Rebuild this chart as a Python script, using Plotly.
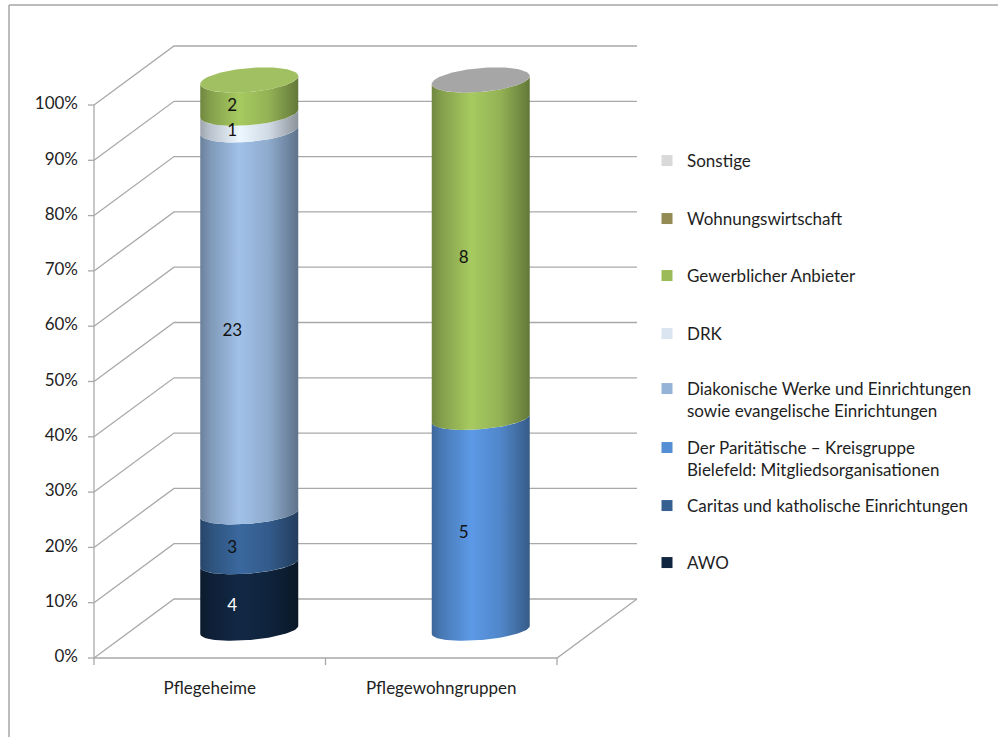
import numpy as np
import plotly.graph_objects as go

# ---------------------------------------------------------------- data
categories = ["Pflegeheime", "Pflegewohngruppen"]

series_names = [
    "AWO",
    "Caritas und katholische Einrichtungen",
    "Der Paritätische – Kreisgruppe<br>Bielefeld: Mitgliedsorganisationen",
    "Diakonische Werke und Einrichtungen<br>sowie evangelische Einrichtungen",
    "DRK",
    "Gewerblicher Anbieter",
    "Wohnungswirtschaft",
    "Sonstige",
]
awo = [4, 0]
caritas = [3, 0]
paritaetische = [0, 5]
diakonie = [23, 0]
drk = [1, 0]
gewerblich = [2, 8]
wohnungswirtschaft = [0, 0]
sonstige = [0, 0]
series_values = [awo, caritas, paritaetische, diakonie, drk,
                 gewerblich, wohnungswirtschaft, sonstige]

tick_values = [0, 10, 20, 30, 40, 50, 60, 70, 80, 90, 100]
tick_labels = ["0%", "10%", "20%", "30%", "40%", "50%",
               "60%", "70%", "80%", "90%", "100%"]

# ---------------------------------------------------------------- styles
series_colors = ["#10253f", "#366092", "#558ed5", "#95b3d7",
                 "#dbe5f1", "#9bbb59", "#948a54", "#d9d9d9"]
label_colors = ["#ffffff", "#111111", "#111111", "#111111",
                "#111111", "#111111", "#111111", "#111111"]
# pixel row (first text line) of each legend entry, AWO ... Sonstige
legend_rows = [562, 505, 447, 388, 333, 275, 218, 160]
cap_colors = ["#a1c062", "#a6a6a6"]
grid_color = "#a9a9a9"
text_color = "#1e1e1e"
FONT = "Lato, 'Open Sans', sans-serif"
FS = 17

W, H = 998, 737
PXU = 231.5          # pixels per category unit
PXP = 5.53           # pixels per percent
OX, OY = 94, 658     # front-left floor corner in pixels


def px_x(n):
    return n / PXU


def px_y(n):
    return n / PXP


DX, DY = px_x(80), px_y(59)          # depth of the 3D box
CYL_DX = px_x(39.5)                  # cylinders sit at mid depth
CYL_Y0 = px_y(28)
CYL_SCALE = 550 / 553
RAD_A = px_x(49)
SHEAR = px_y(4)


def ry(v):
    return CYL_Y0 + v * CYL_SCALE


def rb(v):
    return px_y(10 + 2 * v / 100)


def shade(hexc, f):
    h = hexc.lstrip("#")
    r, g, b = (min(255, int(h[i:i + 2], 16) * f) for i in (0, 2, 4))
    return "rgb(%d,%d,%d)" % (round(r), round(g), round(b))


def gradient(c):
    return [[0.0, shade(c, 0.72)], [0.1, shade(c, 0.85)],
            [0.4, shade(c, 1.08)], [0.7, shade(c, 0.95)],
            [1.0, shade(c, 0.64)]]


def front_arc(xc, v, t):
    return xc + RAD_A * np.cos(t), ry(v) - rb(v) * np.sin(t) + SHEAR * np.cos(t)


fig = go.Figure()

# ---------------------------------------------------------------- 3D frame
gx, gy = [], []
for v in tick_values:
    gx += [0, DX, 2 + DX, None]
    gy += [v, v + DY, v + DY, None]
# floor front and right edge
gx += [0, 2, 2 + DX, None]
gy += [0, 0, DY, None]
# vertical value axis
gx += [0, 0, None]
gy += [0, 100, None]
# value-axis tick marks
for v in tick_values:
    gx += [-px_x(6), 0, None]
    gy += [v, v, None]
# category-axis tick marks
for i in range(len(categories) + 1):
    gx += [i, i, None]
    gy += [0, -px_y(7), None]
fig.add_trace(go.Scatter(x=gx, y=gy, mode="lines",
                         line=dict(color=grid_color, width=1.3),
                         hoverinfo="skip", showlegend=False))

# axis labels
fig.add_trace(go.Scatter(
    x=[-px_x(16)] * len(tick_values), y=tick_values, text=tick_labels,
    mode="text", textposition="middle left",
    textfont=dict(family=FONT, size=FS, color=text_color),
    hoverinfo="skip", showlegend=False))
fig.add_trace(go.Scatter(
    x=[i + 0.5 for i in range(len(categories))],
    y=[-px_y(32)] * len(categories), text=categories,
    mode="text", textposition="middle center",
    textfont=dict(family=FONT, size=FS, color=text_color),
    hoverinfo="skip", showlegend=False))

# ---------------------------------------------------------------- cylinders
totals = [sum(s[i] for s in series_values) for i in range(len(categories))]
lab_x, lab_y, lab_t, lab_c = [], [], [], []
for ci, cat in enumerate(categories):
    xc = ci + 0.5 + CYL_DX
    base = 0.0
    for si, vals in enumerate(series_values):
        val = vals[ci]
        if val == 0:
            continue
        top = base + val / totals[ci] * 100
        x0, y0 = front_arc(xc, base, np.linspace(np.pi, 0, 60))
        x1, y1 = front_arc(xc, top, np.linspace(0, np.pi, 60))
        fig.add_trace(go.Scatter(
            x=np.concatenate([x0, x1]), y=np.concatenate([y0, y1]),
            mode="lines", line=dict(width=0), fill="toself",
            fillgradient=dict(type="horizontal",
                              colorscale=gradient(series_colors[si])),
            hoverinfo="skip", showlegend=False))
        mid = (base + top) / 2
        lab_x.append(xc - px_x(17))
        lab_y.append(ry(mid) - px_y(10))
        lab_t.append(str(val))
        lab_c.append(label_colors[si])
        base = top
    # top cap
    t = np.linspace(0, 2 * np.pi, 120)
    cx, cy = front_arc(xc, base, t)
    fig.add_trace(go.Scatter(x=cx, y=cy, mode="lines", line=dict(width=0),
                             fill="toself", fillcolor=cap_colors[ci],
                             hoverinfo="skip", showlegend=False))

# value labels
fig.add_trace(go.Scatter(
    x=lab_x, y=lab_y, text=lab_t, mode="text", textposition="middle center",
    textfont=dict(family=FONT, size=FS, color=lab_c),
    hoverinfo="skip", showlegend=False))

# ---------------------------------------------------------------- legend
# one legend box per entry so every row sits at its own height
legend_layout = {}
for si in range(len(series_names)):
    key = "legend" if si == 0 else "legend%d" % (si + 1)
    fig.add_trace(go.Scatter(
        x=[None], y=[None], mode="markers", name=series_names[si],
        legend=key,
        marker=dict(symbol="square", size=11, color=series_colors[si],
                    line=dict(width=0))))
    legend_layout[key] = dict(
        x=647 / W, y=1 - (legend_rows[si] - 17) / H,
        xanchor="left", yanchor="top", valign="top",
        font=dict(family=FONT, size=FS, color=text_color),
        bgcolor="rgba(0,0,0,0)")

fig.update_layout(
    width=W, height=H,
    margin=dict(l=0, r=0, t=0, b=0),
    paper_bgcolor="white", plot_bgcolor="white",
    xaxis=dict(range=[-OX / PXU, (W - OX) / PXU], visible=False,
               fixedrange=True),
    yaxis=dict(range=[-(H - OY) / PXP, OY / PXP], visible=False,
               fixedrange=True),
    shapes=[
        dict(type="line", xref="paper", yref="paper",
             x0=9 / W, x1=1.0, y0=1 - 5 / H, y1=1 - 5 / H,
             line=dict(color="#a6a6a6", width=1.5)),
        dict(type="line", xref="paper", yref="paper",
             x0=9 / W, x1=9 / W, y0=0, y1=1 - 5 / H,
             line=dict(color="#a6a6a6", width=1.5)),
    ],
    **legend_layout,
)

fig.write_html("out.html", config={"displayModeBar": False})
